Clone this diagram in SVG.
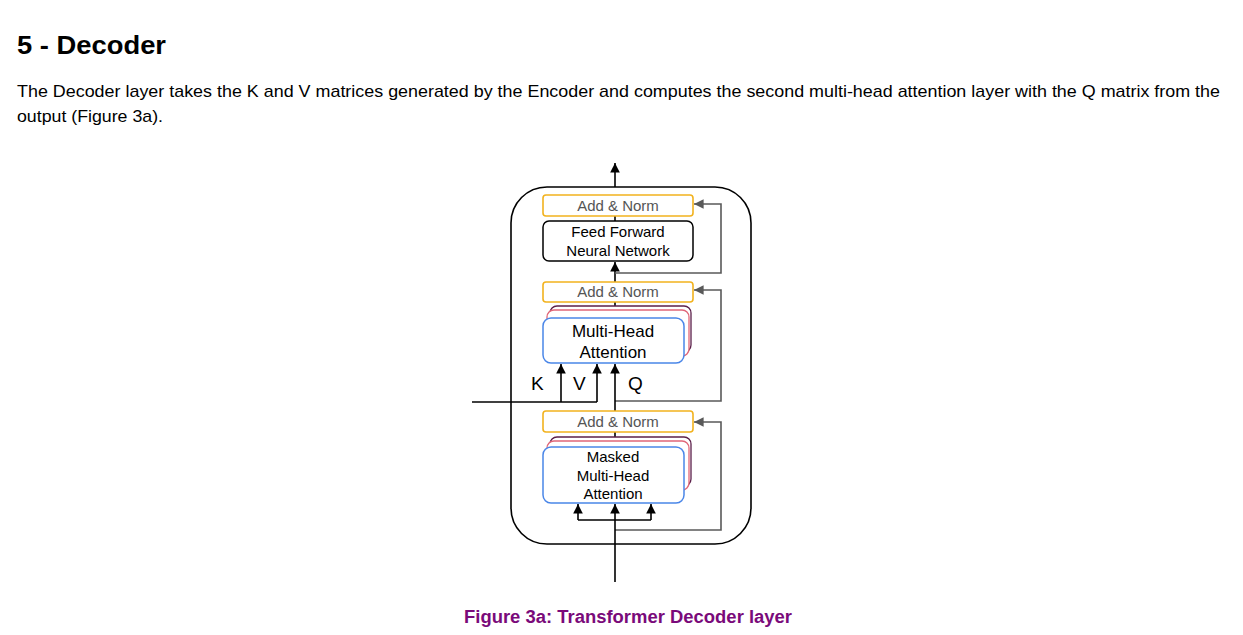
<svg xmlns="http://www.w3.org/2000/svg" width="1243" height="635" viewBox="0 0 1243 635">
<style>
text{font-family:"Liberation Sans",Arial,sans-serif}
.h{font-size:26px;font-weight:bold;fill:#000}
.p{font-size:17px;fill:#000}
.cap{font-size:18px;font-weight:bold;fill:#7a0a7a}
.an{fill:#fff;stroke:#f2b21e;stroke-width:1.6}
.ant{font-size:15px;fill:#555;text-anchor:middle}
.box{fill:#fff;stroke:#000;stroke-width:1.5}
.bt{font-size:15px;fill:#000;text-anchor:middle}
.bt2{font-size:17px;fill:#000;text-anchor:middle}
.back{fill:#fff;stroke:#5b1f4a;stroke-width:1.3}
.mid{fill:#fff;stroke:#e06678;stroke-width:1.3}
.front{fill:#fff;stroke:#4a86e8;stroke-width:1.5}
.k{fill:none;stroke:#000;stroke-width:1.6}
.g{fill:none;stroke:#595959;stroke-width:1.6}
.lbl{font-size:19px;fill:#000}
</style>
<defs>
<marker id="ak" viewBox="0 0 10 10" refX="10" refY="5" markerWidth="6" markerHeight="6" orient="auto"><path d="M0,0 L10,5 L0,10 z" fill="#000"/></marker>
<marker id="ag" viewBox="0 0 10 10" refX="10" refY="5" markerWidth="6" markerHeight="6" orient="auto"><path d="M0,0 L10,5 L0,10 z" fill="#595959"/></marker>
</defs>
<text class="h" x="17" y="54" textLength="149" lengthAdjust="spacingAndGlyphs">5 - Decoder</text>
<text class="p" x="17" y="97" textLength="1203" lengthAdjust="spacingAndGlyphs">The Decoder layer takes the K and V matrices generated by the Encoder and computes the second multi-head attention layer with the Q matrix from the</text>
<text class="p" x="17" y="122" textLength="146" lengthAdjust="spacingAndGlyphs">output (Figure 3a).</text>
<g id="outer"><rect x="511" y="187" width="240" height="357" rx="36" fill="none" stroke="#000" stroke-width="1.6"/></g>
<g id="connectors">
<path class="k" d="M615,187 V163" marker-end="url(#ak)"/>
<path class="k" d="M615,216 V221"/>
<path class="k" d="M615,282 V262" marker-end="url(#ak)"/>
<path class="g" d="M615,273 H721 V204 H694" marker-end="url(#ag)"/>
<path class="k" d="M615,302 V307"/>
<path class="g" d="M615,401 H721 V290 H694" marker-end="url(#ag)"/>
<path class="k" d="M472,402 H597"/>
<path class="k" d="M561,402 V364" marker-end="url(#ak)"/>
<path class="k" d="M597,402 V364" marker-end="url(#ak)"/>
<path class="k" d="M615,411 V364" marker-end="url(#ak)"/>
<path class="k" d="M615,432 V437"/>
<path class="g" d="M615,530 H721 V422 H694" marker-end="url(#ag)"/>
<path class="k" d="M615,582 V504" marker-end="url(#ak)"/>
<path class="k" d="M578,520 H651"/>
<path class="k" d="M578,520 V504" marker-end="url(#ak)"/>
<path class="k" d="M651,520 V504" marker-end="url(#ak)"/>
</g>
<g id="addnorm1"><rect class="an" x="543" y="195" width="150" height="21" rx="3"/><text class="ant" x="618" y="211">Add &amp; Norm</text></g>
<g id="ffn"><rect class="box" x="543" y="221" width="150" height="40" rx="6"/><text class="bt" x="618" y="237">Feed Forward</text><text class="bt" x="618" y="256">Neural Network</text></g>
<g id="addnorm2"><rect class="an" x="543" y="282" width="150" height="20" rx="3"/><text class="ant" x="618" y="297">Add &amp; Norm</text></g>
<g id="mha">
<rect class="back" x="550" y="306" width="141" height="46" rx="7"/>
<rect class="mid" x="547" y="310" width="142" height="46" rx="7"/>
<rect class="front" x="543" y="318" width="141" height="45" rx="8"/>
<text class="bt2" x="613" y="337">Multi-Head</text><text class="bt2" x="613" y="358">Attention</text>
</g>
<g id="labels"><text class="lbl" x="531" y="390">K</text><text class="lbl" x="573" y="390">V</text><text class="lbl" x="628" y="390">Q</text></g>
<g id="addnorm3"><rect class="an" x="543" y="411" width="150" height="21" rx="3"/><text class="ant" x="618" y="427">Add &amp; Norm</text></g>
<g id="masked">
<rect class="back" x="550" y="437" width="141" height="49" rx="7"/>
<rect class="mid" x="547" y="441" width="142" height="49" rx="7"/>
<rect class="front" x="543" y="447" width="141" height="56" rx="8"/>
<text class="bt" x="613" y="462">Masked</text><text class="bt" x="613" y="481">Multi-Head</text><text class="bt" x="613" y="499">Attention</text>
</g>
<text class="cap" x="628" y="623" text-anchor="middle" textLength="328" lengthAdjust="spacingAndGlyphs">Figure 3a: Transformer Decoder layer</text>
</svg>
